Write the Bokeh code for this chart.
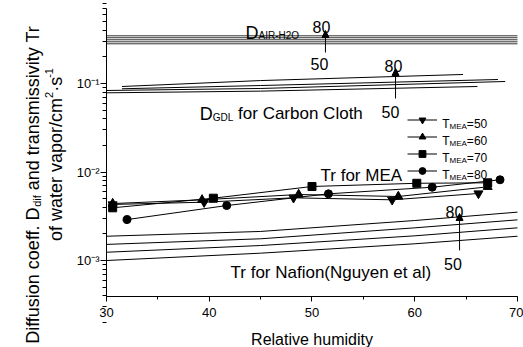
import math
from bokeh.plotting import figure
from bokeh.models import (Label, Arrow, NormalHead, Legend, LegendItem,
                          FixedTicker, SingleIntervalTicker, LinearAxis, LogAxis)
from bokeh.embed import file_html
from bokeh.resources import INLINE

FONT = "Liberation Sans"

# ---------------- data ----------------
air_x = [30, 70]
air_y = [0.346, 0.329, 0.312, 0.296, 0.281]

gdl_x = [[31.5, 45, 64.7], [31.5, 45, 68.1], [30, 45, 68.8], [30, 45, 66.1]]
gdl_y = [[0.0925, 0.108, 0.1265],
         [0.0872, 0.0949, 0.111],
         [0.0834, 0.0879, 0.1054],
         [0.0785, 0.082, 0.0925]]

nafion_x = [30, 45, 60, 70]
nafion_y = [[1.88e-3, 2.13e-3, 2.83e-3, 3.52e-3],
            [1.52e-3, 1.76e-3, 2.34e-3, 2.88e-3],
            [1.24e-3, 1.477e-3, 1.90e-3, 2.34e-3],
            [1.0e-3, 1.21e-3, 1.545e-3, 1.88e-3]]

t_mea = ["50", "60", "70", "80"]
mea_markers = ["inverted_triangle", "triangle", "square", "circle"]
mea_sizes = [9, 9, 8, 8]
mea_x = [[30.6, 39.5, 48.2, 57.8, 66.2],
         [30.6, 39.3, 48.7, 58.4, 67.1],
         [30.6, 40.4, 50.0, 60.2, 67.1],
         [32.0, 41.7, 51.6, 61.7, 68.3]]
mea_y = [[4.30e-3, 4.56e-3, 5.11e-3, 4.85e-3, 5.72e-3],
         [4.40e-3, 4.85e-3, 5.57e-3, 5.29e-3, 6.80e-3],
         [3.94e-3, 5.06e-3, 6.86e-3, 7.46e-3, 7.55e-3],
         [2.90e-3, 4.18e-3, 5.67e-3, 6.73e-3, 8.17e-3]]

x_ticks = [30, 40, 50, 60, 70]
y_ticks = [1e-3, 1e-2, 1e-1]
y_tick_labels = ["10\u207b\u00b3", "10\u207b\u00b2", "10\u207b\u00b9"]

x_bounds = (30, 70)
y_bounds = (3.9e-4, 0.705)

# ---------------- text width helper (Arial / Liberation Sans metrics) ----------------
AW = {' ': 278, '(': 333, ')': 333, '-': 333, '.': 278, '/': 278, '=': 584,
      '\u00b7': 278, 'A': 667, 'C': 722, 'D': 722, 'E': 667, 'G': 778, 'H': 722,
      'I': 278, 'L': 556, 'M': 833, 'N': 722, 'O': 778, 'R': 722, 'T': 611,
      'a': 556, 'b': 556, 'c': 500, 'd': 556, 'e': 556, 'f': 278, 'g': 556,
      'h': 556, 'i': 222, 'l': 222, 'm': 833, 'n': 556, 'o': 556, 'p': 556,
      'r': 333, 's': 500, 't': 278, 'u': 556, 'v': 500, 'w': 722, 'y': 500}


def tw(s, size):
    return sum(AW.get(c, 556) for c in s) * size / 1000.0


# ---------------- figure (frame = whole canvas, axes at fixed locations) ----------------
p = figure(width=523, height=347, x_range=(19.684, 70.584), y_range=(1.04e-4, 0.867),
           y_axis_type="log", output_backend="svg", toolbar_location=None,
           x_axis_location=None, y_axis_location=None,
           min_border_left=0, min_border_right=0, min_border_top=0,
           min_border_bottom=0, title=None)
p.grid.visible = False
p.outline_line_color = None
p.background_fill_color = "white"

xaxis = LinearAxis(fixed_location=y_bounds[0], bounds=x_bounds,
                   ticker=SingleIntervalTicker(interval=10, num_minor_ticks=2))
yaxis = LogAxis(fixed_location=x_bounds[0], bounds=y_bounds,
                ticker=FixedTicker(ticks=y_ticks,
                                   minor_ticks=[m * 10.0 ** e for e in (-4, -3, -2, -1)
                                                for m in range(2, 10)]))
yaxis.major_label_overrides = dict(zip(y_ticks, y_tick_labels))

for ax in (xaxis, yaxis):
    ax.axis_line_color = "black"
    ax.major_tick_line_color = "black"
    ax.minor_tick_line_color = "black"
    ax.major_tick_in = 0
    ax.minor_tick_in = 0
    ax.major_label_text_font = FONT
    ax.major_label_text_font_size = "13px"
    ax.major_label_text_color = "black"

xaxis.major_tick_out = 5
xaxis.minor_tick_out = 3
xaxis.major_label_standoff = 6
yaxis.major_tick_out = 6
yaxis.minor_tick_out = 4
yaxis.major_label_standoff = 1

p.add_layout(xaxis, "below")
p.add_layout(yaxis, "left")

# ---------------- lines ----------------
for v in air_y:
    p.line(air_x, [v, v], line_color="#333333", line_width=1)

for xs, ys in zip(gdl_x, gdl_y):
    p.line(xs, ys, line_color="black", line_width=1)

for ys in nafion_y:
    p.line(nafion_x, ys, line_color="black", line_width=1)

items = []
for t, mk, sz, xs, ys in zip(t_mea, mea_markers, mea_sizes, mea_x, mea_y):
    lr = p.line(xs, ys, line_color="black", line_width=1)
    sr = p.scatter(xs, ys, marker=mk, size=sz, fill_color="black", line_color="black")
    items.append(LegendItem(label=" ", renderers=[lr, sr]))

legend = Legend(items=items, location=(406.7, 168.2), glyph_width=30, glyph_height=17,
                label_width=0, label_height=17, spacing=0, padding=0, margin=0,
                label_standoff=0, label_text_font_size="1px",
                border_line_color=None, background_fill_alpha=0)
p.add_layout(legend, "center")

# ---------------- annotations ----------------
def lab(x, y, text, size, align="left", units="data", **kw):
    return Label(x=x, y=y, text=text, x_units=units, y_units=units,
                 text_font=FONT, text_font_size=f"{size}px", text_color="black",
                 text_align=align, text_baseline="alphabetic", **kw)


head = dict(size=7, fill_color="black", line_color="black")

# D_AIR-H2O
p.add_layout(lab(43.53, 0.377, "D", 18))
p.add_layout(lab(43.53, 0.377, "AIR-H2O", 10, x_offset=tw("D", 18), y_offset=-3))
p.add_layout(lab(50.92, 0.4406, "80", 16, align="center"))
p.add_layout(lab(50.73, 0.167, "50", 16, align="center"))
p.add_layout(Arrow(x_start=51.31, y_start=0.224, x_end=51.31, y_end=0.397,
                   line_color="black", line_width=1, end=NormalHead(**head)))

# D_GDL for Carbon Cloth
p.add_layout(lab(39.08, 0.0458, "D", 18))
p.add_layout(lab(39.08, 0.0458, "GDL", 10, x_offset=tw("D", 18), y_offset=-4))
p.add_layout(lab(39.08, 0.0458, "for Carbon Cloth", 17,
                 x_offset=tw("D", 18) + tw("GDL", 10) + tw(" ", 17)))
p.add_layout(lab(57.93, 0.1596, "80", 16, align="center"))
p.add_layout(lab(57.64, 0.0474, "50", 16, align="center"))
p.add_layout(Arrow(x_start=58.13, y_start=0.0677, x_end=58.13, y_end=0.1477,
                   line_color="black", line_width=1, end=NormalHead(**head)))

# Tr for MEA
p.add_layout(lab(50.83, 0.00913, "Tr for MEA", 17))

# Nafion
p.add_layout(lab(63.87, 0.00352, "80", 16, align="center"))
p.add_layout(lab(63.72, 0.000918, "50", 16, align="center"))
p.add_layout(Arrow(x_start=64.36, y_start=0.0013, x_end=64.36, y_end=0.0034,
                   line_color="black", line_width=1, end=NormalHead(**head)))
p.add_layout(lab(42.07, 0.000741, "Tr for Nafion(Nguyen et al)", 17))

# legend texts (screen units: frame == canvas)
for i, t in enumerate(t_mea):
    by = 223.2 - 17 * i
    p.add_layout(lab(441.7, by, "T", 12, units="screen"))
    p.add_layout(lab(441.7, by - 2, "MEA", 8, units="screen", x_offset=tw("T", 12)))
    p.add_layout(lab(441.7, by, "=" + t, 12, units="screen",
                     x_offset=tw("T", 12) + tw("MEA", 8)))

# x axis title
p.add_layout(lab(311.5, 8, "Relative humidity", 16, align="center", units="screen"))

# y axis title (two lines, rotated)
A = math.pi / 2
s1, s1b, s1c = "Diffusion coeff. D", "dif", " and transmissivity Tr"
W1 = tw(s1, 18) + tw(s1b, 11) + tw(s1c, 18)
y0 = 163 - W1 / 2
bx = 32
p.add_layout(lab(bx, y0, s1, 18, units="screen", angle=A))
p.add_layout(lab(bx + 4, y0 + tw(s1, 18), s1b, 11, units="screen", angle=A))
p.add_layout(lab(bx, y0 + tw(s1, 18) + tw(s1b, 11) + tw(" ", 18), s1c.strip(), 18,
                 units="screen", angle=A))

s2a, s2b, s2c, s2d = "of water vapor/cm", "2", "\u00b7s", "-1"
W2 = tw(s2a, 18) + tw(s2b, 11) + tw(s2c, 18) + tw(s2d, 11)
y1 = 193 - W2 / 2
bx2 = 55
p.add_layout(lab(bx2, y1, s2a, 18, units="screen", angle=A))
y1b = y1 + tw(s2a, 18)
p.add_layout(lab(bx2 - 7, y1b, s2b, 11, units="screen", angle=A))
y1c = y1b + tw(s2b, 11)
p.add_layout(lab(bx2, y1c, s2c, 18, units="screen", angle=A))
y1d = y1c + tw(s2c, 18)
p.add_layout(lab(bx2 - 7, y1d, s2d, 11, units="screen", angle=A))

open("out.html", "w").write(file_html(p, INLINE))
